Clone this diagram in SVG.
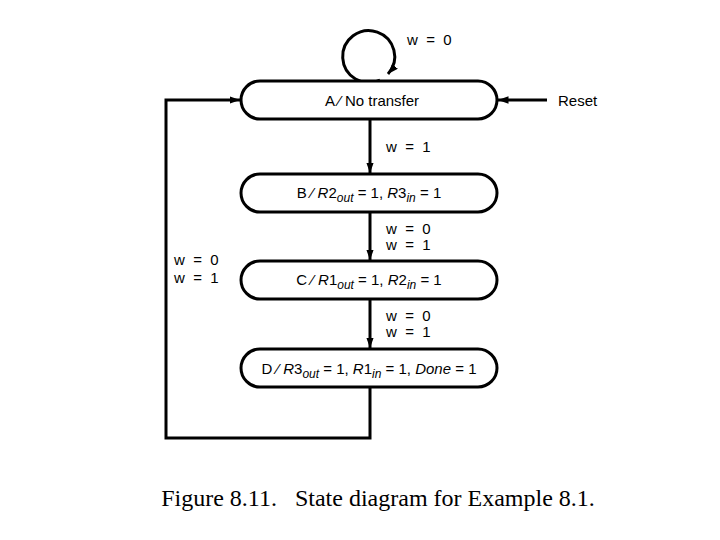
<svg xmlns="http://www.w3.org/2000/svg" width="720" height="540" viewBox="0 0 720 540">
<style>
.n{fill:#fff;stroke:#000;stroke-width:3}
.c{fill:none;stroke:#000;stroke-width:3}
.t{font-family:"Liberation Sans",Arial,sans-serif;font-size:15px;fill:#000;white-space:pre}
.i{font-style:italic}
.s{font-size:12px}
</style>
<defs>
<marker id="a" markerWidth="3.5" markerHeight="2.5" refX="3.5" refY="1.25" orient="auto" markerUnits="strokeWidth"><path d="M0,0 L3.5,1.25 L0,2.5 z" fill="#000"/></marker>
</defs>
<rect width="720" height="540" fill="#fff"/>
<g id="connectors">
<path class="c" d="M380,80 A26,26 0 1 1 388,74" marker-end="url(#a)"/>
<path class="c" d="M547,100 L498,100" marker-end="url(#a)"/>
<path class="c" d="M370,119 L370,173" marker-end="url(#a)"/>
<path class="c" d="M370,212 L370,260" marker-end="url(#a)"/>
<path class="c" d="M370,299 L370,348" marker-end="url(#a)"/>
<path class="c" d="M370,387 L370,438 L166,438 L166,100 L240,100" marker-end="url(#a)"/>
</g>
<g id="labels">
<text class="t" xml:space="preserve" x="407" y="45">w  =  0</text>
<text class="t" x="558" y="106">Reset</text>
<text class="t" xml:space="preserve" x="386" y="152">w  =  1</text>
<text class="t" xml:space="preserve" x="386" y="234">w  =  0</text>
<text class="t" xml:space="preserve" x="386" y="250">w  =  1</text>
<text class="t" xml:space="preserve" x="386" y="321">w  =  0</text>
<text class="t" xml:space="preserve" x="386" y="337">w  =  1</text>
<text class="t" xml:space="preserve" x="174" y="265">w  =  0</text>
<text class="t" xml:space="preserve" x="174" y="283">w  =  1</text>
</g>
<g id="A"><rect class="n" x="241" y="81" width="256" height="38" rx="19"/><text class="t" x="372" y="106" text-anchor="middle">A ⁄ No transfer</text></g>
<g id="B"><rect class="n" x="241" y="174" width="256" height="38" rx="19"/><text class="t" x="369" y="198" text-anchor="middle">B ⁄ <tspan class="i">R</tspan>2<tspan class="i s" dy="4">out</tspan><tspan dy="-4"> = 1, </tspan><tspan class="i">R</tspan>3<tspan class="i s" dy="4">in</tspan><tspan dy="-4"> = 1</tspan></text></g>
<g id="C"><rect class="n" x="241" y="261" width="256" height="38" rx="19"/><text class="t" x="369" y="285" text-anchor="middle">C ⁄ <tspan class="i">R</tspan>1<tspan class="i s" dy="4">out</tspan><tspan dy="-4"> = 1, </tspan><tspan class="i">R</tspan>2<tspan class="i s" dy="4">in</tspan><tspan dy="-4"> = 1</tspan></text></g>
<g id="D"><rect class="n" x="241" y="349" width="256" height="38" rx="19"/><text class="t" x="369" y="374" text-anchor="middle">D ⁄ <tspan class="i">R</tspan>3<tspan class="i s" dy="4">out</tspan><tspan dy="-4"> = 1, </tspan><tspan class="i">R</tspan>1<tspan class="i s" dy="4">in</tspan><tspan dy="-4"> = 1, </tspan><tspan class="i">Done</tspan> = 1</text></g>
<text xml:space="preserve" x="378" y="506" text-anchor="middle" style="font-family:'Liberation Serif','Times New Roman',serif;font-size:24px;white-space:pre">Figure 8.11.   State diagram for Example 8.1.</text>
</svg>
